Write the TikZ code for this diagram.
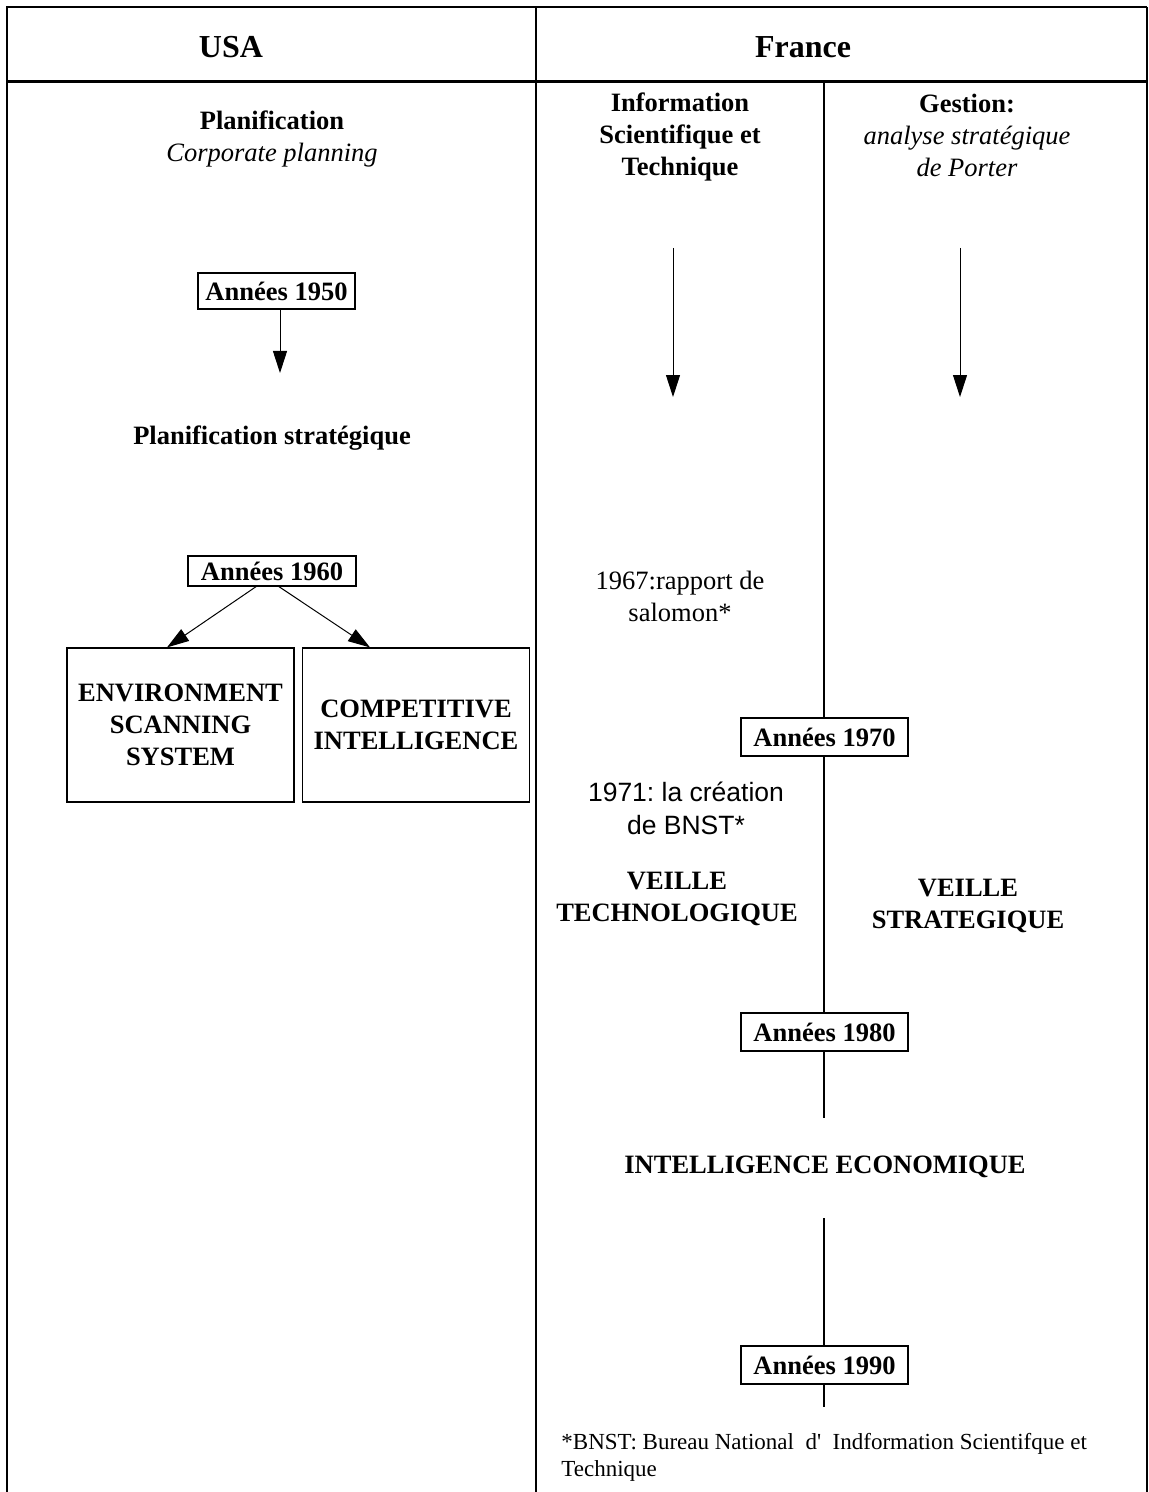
\documentclass[tikz,border=0pt]{standalone}
\usepackage{fontspec}
\setmainfont{Liberation Serif}
\newfontfamily\arialf{Liberation Sans}
\usetikzlibrary{arrows.meta}
\frenchspacing
\begin{document}
\begin{tikzpicture}[x=0.5pt,y=-0.5pt,
  every node/.style={font=\fontsize{13.25}{16}\selectfont, align=center, inner sep=0pt},
  yearbox/.style={draw, line width=0.6pt, font=\fontsize{13.25}{16}\selectfont\bfseries},
  bigbox/.style={draw, line width=0.6pt, minimum width=113.5pt, minimum height=77pt, font=\fontsize{13.25}{16}\selectfont\bfseries},
  hdr/.style={font=\fontsize{16}{19}\selectfont\bfseries},
  boldtxt/.style={font=\fontsize{13.25}{16}\selectfont\bfseries},
  frame/.style={line width=1.25pt},
  rule/.style={line width=0.9pt},
  arr/.style={line width=0.5pt, -{Triangle[width=7pt,length=11pt]}},
]
\useasboundingbox (0,0) rectangle (1149,1492);
% table frame
\draw[frame] (7,1492) -- (7,7) -- (1147,7);
\draw[line width=0.8pt] (1147,7) -- (1147,1492);
\draw[line width=1.5pt] (7,82) -- (1147,82);
\draw[line width=1pt] (536,7) -- (536,1492);

% headers
\node[hdr] (usa) at (231,47) {USA};
\node[hdr] (france) at (803,47) {France};

% USA column
\node[boldtxt] (plan) at (272,120) {Planification};
\node[font=\fontsize{13.25}{16}\selectfont\itshape] (corp) at (272,155) {Corporate planning};
\node[yearbox, minimum width=78.5pt, minimum height=18pt] (b1950) at (276.5,291) {Années 1950};
\coordinate (tip50) at (280,373);
\draw[arr] (b1950.south -| tip50) -- (tip50);
\node[boldtxt] (planstrat) at (272,438) {Planification stratégique};
\node[yearbox, minimum width=84pt, minimum height=15pt] (b1960) at (272,571) {Années 1960};
\node[bigbox] (env) at (180.5,725) {ENVIRONMENT\\SCANNING\\SYSTEM};
\node[bigbox] (comp) at (416,725) {COMPETITIVE\\INTELLIGENCE};
\coordinate (s1) at (257,586);
\coordinate (s2) at (278,586);
\draw[arr] (s1) -- (env.north -| 167,0);
\draw[arr] (s2) -- (comp.north -| 370,0);

% France column
\node[boldtxt] (ist) at (680,137) {Information\\Scientifique et\\Technique};
\node[font=\fontsize{13.25}{16}\selectfont] (gest) at (967,135) {\bfseries Gestion:\\\itshape analyse stratégique\\\itshape de Porter};
\coordinate (a1s) at (673,248);
\coordinate (a1e) at (673,397);
\coordinate (a2s) at (960,248);
\coordinate (a2e) at (960,397);
\draw[arr] (a1s) -- (a1e);
\draw[arr] (a2s) -- (a2e);

\node (rap) at (680,596) {1967:rapport de\\salomon*};
\node[font=\fontsize{13.25}{16.5}\selectfont\arialf] (bnst) at (686,808) {1971: la création\\de BNST*};
\node[boldtxt] (vt) at (677,899) {VEILLE\\TECHNOLOGIQUE};
\node[boldtxt] (vs) at (968,906) {VEILLE\\STRATEGIQUE};
\node[boldtxt] (ie) at (825,1167) {INTELLIGENCE ECONOMIQUE};

\node[yearbox, minimum width=83.5pt, minimum height=19pt] (b1970) at (824.5,737) {Années 1970};
\node[yearbox, minimum width=83.5pt, minimum height=19pt] (b1980) at (824.5,1032) {Années 1980};
\node[yearbox, minimum width=83.5pt, minimum height=19pt] (b1990) at (824.5,1365) {Années 1990};

\coordinate (vtop) at (824,82);
\coordinate (v1) at (824,1118);
\coordinate (v2) at (824,1218);
\coordinate (vbot) at (824,1407);
\draw[rule] (vtop) -- (b1970.north -| vtop);
\draw[rule] (b1970.south -| vtop) -- (b1980.north -| vtop);
\draw[rule] (b1980.south -| vtop) -- (v1);
\draw[rule] (v2) -- (b1990.north -| vtop);
\draw[rule] (b1990.south -| vtop) -- (vbot);

% footnote
\node[anchor=north west, align=left, font=\fontsize{11.5}{13.5}\selectfont] (fn) at (561,1433) {*BNST: Bureau National\ \ d\textquotesingle\ \ Indformation Scientifque et\\Technique};
\end{tikzpicture}
\end{document}
